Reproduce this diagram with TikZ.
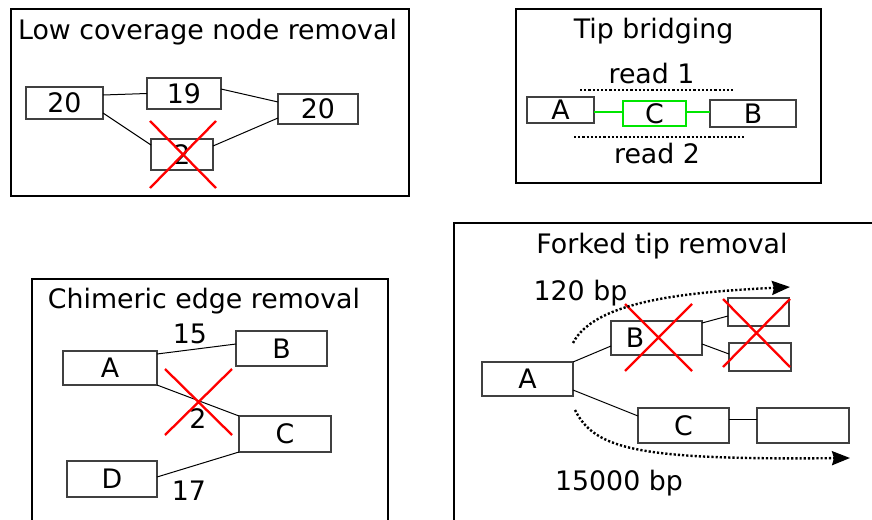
\documentclass[tikz,border=0pt]{standalone}
\usepackage{fontspec}
\setmainfont{DejaVu Sans}
\usetikzlibrary{arrows.meta,shapes.misc}
\definecolor{brightgreen}{RGB}{0,230,0}
\begin{document}
\begin{tikzpicture}[x=1pt,y=-1pt,
  every node/.style={font=\fontsize{26.8}{30}\selectfont, inner sep=0pt, outer sep=0pt},
  frame/.style={line width=2.5pt},
  box/.style={draw=black!75, line width=1.2pt},
  gbox/.style={draw=brightgreen, line width=2pt},
  edge/.style={line width=1pt},
  gedge/.style={draw=brightgreen, line width=2pt},
  xmark/.style={cross out, draw=red, line width=2.3pt},
  dots/.style={line width=2.4pt, dash pattern=on 2.2pt off 2pt},
  txt/.style={anchor=base},
  tip/.style={-{Stealth[length=18pt,width=14pt,inset=2pt]}},
]
\useasboundingbox (0,0) rectangle (872,519);

% ---------- Panel 1: Low coverage node removal ----------
\draw[frame] (11,9) rectangle (409,196);
\node[txt] (t1) at (207.5,39.3) {Low coverage node removal};
\node[box, minimum width=77pt, minimum height=32pt] (p1a) at (64.5,103) {20};
\node[box, minimum width=74pt, minimum height=31pt] (p1b) at (184,93.5) {19};
\node[box, minimum width=80pt, minimum height=30pt] (p1c) at (318,109) {20};
\node[box, minimum width=62pt, minimum height=31pt] (p1d) at (182,154.5) {2};
\draw[edge] ([yshift=8pt]p1a.east) -- (p1b.west);
\draw[edge] ([yshift=4.5pt]p1b.east) -- ([yshift=7pt]p1c.west);
\draw[edge] ([yshift=-10pt]p1a.east) -- ([yshift=9.5pt]p1d.west);
\draw[edge] ([yshift=8.5pt]p1d.east) -- ([yshift=-9pt]p1c.west);
\node[xmark, minimum width=66pt, minimum height=67pt] (x1) at (183,154.5) {};

% ---------- Panel 2: Tip bridging ----------
\draw[frame] (516,9) rectangle (821,183);
\node[txt] (t2) at (653.5,39) {Tip bridging};
\node[txt] (r1) at (651.5,83) {read 1};
\coordinate (r1s) at (580,90);
\coordinate (r1e) at (733,90);
\draw[dots] (r1s) -- (r1e);
\node[box, minimum width=67pt, minimum height=26pt] (p2a) at (560.5,110) {A};
\node[gbox, minimum width=63pt, minimum height=25pt] (p2c) at (654.5,113.5) {C};
\node[box, minimum width=86pt, minimum height=27pt] (p2b) at (753,113.5) {B};
\draw[gedge] ([yshift=-2pt]p2a.east) -- ([yshift=1.5pt]p2c.west);
\draw[gedge] ([yshift=1.5pt]p2c.east) -- ([yshift=1.5pt]p2b.west);
\coordinate (r2s) at (574,137);
\coordinate (r2e) at (744,137);
\draw[dots] (r2s) -- (r2e);
\node[txt] (r2) at (657,163) {read 2};

% ---------- Panel 3: Chimeric edge removal ----------
\draw[frame] (32,522) -- (32,279) -- (388,279) -- (388,522);
\node[txt] (t3) at (204,308) {Chimeric edge removal};
\node[box, minimum width=94pt, minimum height=34pt] (p3a) at (110,368) {A};
\node[box, minimum width=91pt, minimum height=35pt] (p3b) at (281.5,348.5) {B};
\node[box, minimum width=92pt, minimum height=36pt] (p3c) at (285,434) {C};
\node[box, minimum width=90pt, minimum height=36pt] (p3d) at (112,479) {D};
\draw[edge] ([yshift=-3pt]p3a.north east) -- ([yshift=4.5pt]p3b.west);
\draw[edge] (p3a.south east) -- (p3c.north west);
\draw[edge] ([yshift=2pt]p3d.east) -- (p3c.south west);
\node[txt] (l15) at (190,343) {15};
\node[txt] (l2) at (198,428) {2};
\node[txt] (l17) at (189,500) {17};
\node[xmark, minimum width=67pt, minimum height=66pt] (x3) at (198.5,402) {};

% ---------- Panel 4: Forked tip removal ----------
\draw[frame] (454,522) -- (454,223) -- (875,223);
\node[txt] (t4) at (662,253) {Forked tip removal};
\node[txt] (l120) at (580.5,300) {120 bp};
\node[txt] (l15000) at (619,490) {15000 bp};
\node[box, minimum width=91pt, minimum height=34pt] (p4a) at (527.5,379) {A};
\node[box, minimum width=91pt, minimum height=34pt] (p4b) at (656.5,338) {B\kern43pt};
\node[box, minimum width=61pt, minimum height=28pt] (p4u) at (758.5,312) {};
\node[box, minimum width=62pt, minimum height=28pt] (p4l) at (760,357) {};
\node[box, minimum width=91pt, minimum height=35pt] (p4c) at (683.5,425.5) {C};
\node[box, minimum width=92pt, minimum height=35pt] (p4r) at (803,425.5) {};
\draw[edge] (p4a.north east) -- ([yshift=-8pt]p4b.west);
\draw[edge] ([yshift=-11pt]p4a.east) -- ([yshift=9.5pt]p4c.west);
\draw[edge] ([yshift=15pt]p4b.east) -- ([yshift=-4pt]p4u.west);
\draw[edge] ([yshift=-6pt]p4b.east) -- ([yshift=3pt]p4l.west);
\draw[edge] ([yshift=6.5pt]p4c.east) -- ([yshift=6.5pt]p4r.west);
\node[xmark, minimum width=67pt, minimum height=67pt] (x4b) at (658.5,337.5) {};
\node[xmark, minimum width=67pt, minimum height=68pt] (x4r) at (756.5,333) {};
\coordinate (f1s) at (573,343);
\coordinate (f1e) at (790,287);
\draw[dots, tip] (f1s) .. controls (595,300) and (690,292) .. (f1e);
\coordinate (f2s) at (575,410);
\coordinate (f2e) at (850,458);
\draw[dots, tip] (f2s) .. controls (595,450) and (640,460) .. (f2e);
\end{tikzpicture}
\end{document}
